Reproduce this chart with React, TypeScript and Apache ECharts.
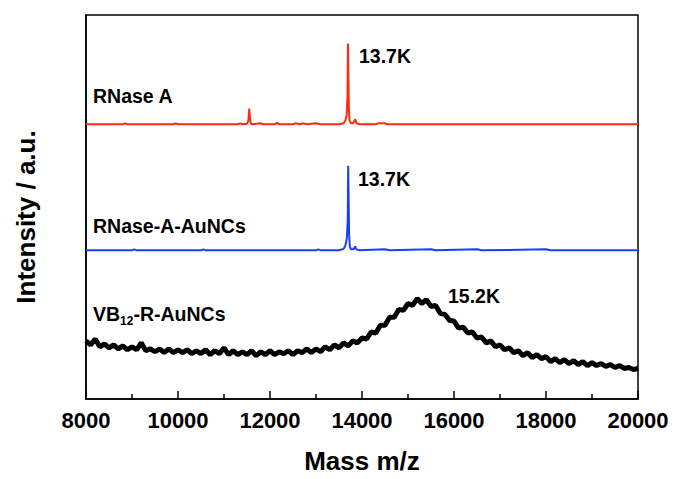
import React, { useEffect, useRef } from "react";
import * as echarts from "echarts";

// Mass axis
const massMin = 8000;
const massMax = 20000;
const massStep = 2000;

// Vertical offsets of the stacked spectra (a.u.)
const offsets = [279, 151, 0];
const seriesNames = ["RNase A", "RNase-A-AuNCs", "VB12-R-AuNCs"];

// RNase A spectrum: [m/z, intensity]
const rnaseA: [number, number][] = [
  [8000, 0], [8800, 0], [8850, 1], [8900, 0], [9900, 0], [9950, 1], [10000, 0],
  [11000, 0], [11300, 0], [11350, 1], [11400, 0], [11500, 0.5], [11530, 4], [11550, 16],
  [11565, 6], [11580, 1], [11620, 0], [11800, 1], [11850, 0], [12100, 0], [12150, 1.5],
  [12200, 0], [12500, 0], [12550, 1], [12650, 0], [12700, 1], [12800, 0], [13000, 1],
  [13100, 0], [13500, 0], [13600, 1], [13640, 4], [13665, 9], [13685, 28], [13695, 82],
  [13705, 50], [13715, 15], [13730, 4], [13760, 1], [13800, 1], [13830, 3], [13855, 5],
  [13880, 1], [13950, 0], [14300, 0], [14350, 1], [14500, 1], [14550, 0], [20000, 0],
];

// RNase-A-AuNCs spectrum: [m/z, intensity]
const rnaseAuNCs: [number, number][] = [
  [8000, 0], [9000, 0], [9050, 1], [9100, 0], [10500, 0], [10550, 1], [10600, 0],
  [12000, 0], [13000, 0], [13050, 1], [13100, 0], [13500, 0], [13600, 1.5], [13640, 5],
  [13670, 12], [13690, 30], [13700, 86], [13710, 50], [13720, 16], [13735, 4], [13760, 1],
  [13820, 1], [13850, 4], [13880, 1], [13950, 0], [14500, 1], [14600, 0], [15500, 1],
  [15600, 0], [16500, 1], [16600, 0], [18000, 1], [18100, 0], [20000, 0],
];

// VB12-R-AuNCs spectrum: m/z every 100 from 8000, intensity
const vb12Mass: number[] = [];
for (let m = 8000; m <= 20000; m += 100) vb12Mass.push(m);
const vb12Intensity = [
  59, 55, 61, 53, 56, 52, 55, 51, 54, 50,
  53, 50, 57, 49, 51, 48, 51, 47, 51, 47,
  50, 47, 50, 46, 49, 46, 50, 45, 49, 46,
  52, 45, 49, 45, 48, 45, 49, 44, 48, 45,
  49, 45, 48, 46, 49, 45, 49, 47, 51, 47,
  51, 48, 53, 50, 55, 52, 57, 54, 59, 57,
  62, 61, 68, 67, 75, 75, 83, 83, 91, 90,
  97, 95, 102, 97, 101, 94, 95, 87, 86, 80,
  79, 72, 73, 67, 68, 62, 63, 57, 59, 53,
  55, 50, 52, 47, 49, 44, 47, 42, 45, 41,
  43, 38, 41, 37, 40, 36, 39, 35, 38, 34,
  37, 34, 36, 33, 35, 32, 34, 31, 32, 30,
  31,
];

const font = "'Liberation Sans', Arial, Helvetica, sans-serif";

export default function App() {
  const ref = useRef<HTMLDivElement>(null);
  useEffect(() => {
    if (!ref.current) return;
    document.body.style.margin = "0";
    const chart = echarts.init(ref.current, null, { renderer: "svg" });
    const shift = (arr: [number, number][], off: number) => arr.map(([x, y]) => [x, y + off]);
    const vb12 = vb12Mass.map((m, i) => [m, vb12Intensity[i] + offsets[2]]);
    const textStyle = { fontFamily: font, fontWeight: "bold" as const, fontSize: 19.5, fill: "#000" };
    chart.setOption({
      animation: false,
      backgroundColor: "#fff",
      grid: {
        left: 86, right: 36, top: 15, bottom: 74,
        show: true, borderColor: "#000", borderWidth: 1.5, backgroundColor: "transparent",
      },
      xAxis: {
        type: "value",
        min: massMin, max: massMax, interval: massStep,
        name: "Mass m/z", nameLocation: "middle", nameGap: 49,
        nameTextStyle: { fontFamily: font, fontWeight: "bold", fontSize: 26, color: "#000" },
        axisLine: { show: true, lineStyle: { color: "#000", width: 1.5 } },
        axisTick: { show: true, inside: true, length: 8, lineStyle: { color: "#000", width: 1.5 } },
        minorTick: { show: true, splitNumber: 2, length: 5, lineStyle: { color: "#000", width: 1.5 } },
        axisLabel: {
          margin: 10, fontFamily: font, fontWeight: "bold", fontSize: 22, color: "#000",
          formatter: (v: number) => String(v),
        },
        splitLine: { show: false },
      },
      yAxis: {
        type: "value", min: 0, max: 390,
        axisLine: { show: true, lineStyle: { color: "#000", width: 1.5 } },
        axisTick: { show: false }, axisLabel: { show: false }, splitLine: { show: false },
      },
      series: [
        {
          name: seriesNames[0], type: "line", data: shift(rnaseA, offsets[0]),
          showSymbol: false, lineStyle: { color: "#ff2a12", width: 2 }, z: 3,
        },
        {
          name: seriesNames[1], type: "line", data: shift(rnaseAuNCs, offsets[1]),
          showSymbol: false, lineStyle: { color: "#1a3cff", width: 2 }, z: 3,
        },
        {
          name: seriesNames[2], type: "line", data: vb12,
          showSymbol: false, lineStyle: { color: "#000", width: 5 }, z: 3,
        },
      ],
      graphic: [
        {
          type: "text", x: 26, y: 217, rotation: Math.PI / 2,
          style: {
            text: "Intensity / a.u.", fontFamily: font, fontWeight: "bold", fontSize: 26,
            fill: "#000", align: "center", verticalAlign: "middle",
          },
        },
        { type: "text", left: 93, top: 86, style: { ...textStyle, text: "RNase A" } },
        { type: "text", left: 359, top: 46, style: { ...textStyle, text: "13.7K" } },
        { type: "text", left: 358, top: 169, style: { ...textStyle, text: "13.7K" } },
        { type: "text", left: 93, top: 216, style: { ...textStyle, text: "RNase-A-AuNCs" } },
        {
          type: "text", left: 93, top: 304,
          style: {
            ...textStyle,
            text: "VB{sub|12}-R-AuNCs",
            rich: { sub: { fontFamily: font, fontWeight: "bold", fontSize: 12, padding: [14, 0, 0, 0] } },
          },
        },
        { type: "text", left: 448, top: 286, style: { ...textStyle, text: "15.2K" } },
      ],
    });
    return () => chart.dispose();
  }, []);
  return <div ref={ref} style={{ width: 674, height: 479 }} />;
}
